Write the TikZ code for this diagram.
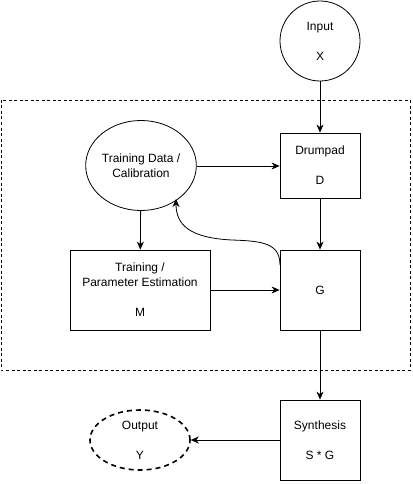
\documentclass[tikz,border=0pt]{standalone}
\usepackage{fontspec}
\setmainfont{Liberation Sans}
\usetikzlibrary{arrows.meta,shapes.geometric}
\begin{document}
\begin{tikzpicture}[x=1pt,y=-1pt,
  every node/.style={font=\fontsize{12}{15}\selectfont, align=center, inner sep=0pt},
  box/.style={draw, line width=0.8pt, minimum width=80pt, minimum height=80pt},
  round/.style={draw, line width=0.8pt, ellipse},
  conn/.style={line width=0.8pt, -{Stealth[length=8pt,width=7pt,inset=2.5pt]}},
  region/.style={draw, line width=0.8pt, dash pattern=on 3pt off 2.5pt}]
\useasboundingbox (0,0) rectangle (412,484);
\draw[region] (1,100) rectangle (410,370);
\node[round, minimum width=80pt, minimum height=80pt] (in) at (320,41) {Input\\[15pt]X};
\node[box, minimum height=65pt] (dp) at (320,165.5) {Drumpad\\[15pt]D};
\node[round, minimum width=100pt, minimum height=90pt] (td) at (141,165.5) {Training Data /\\Calibration};
\node[box, minimum width=140pt] (tr) at (140,290) {Training /\\Parameter Estimation\\[15pt]M};
\node[box] (g) at (320,290) {G};
\node[box] (sy) at (320,440) {Synthesis\\[15pt]S * G};
\node[draw, ellipse, line width=1.6pt, dash pattern=on 5pt off 4pt, minimum width=100pt, minimum height=60pt] (out) at (140,440) {Output\\[15pt]Y};
\coordinate (cs) at (280,265);
\coordinate (ce) at (176,199);
\draw[conn] (in) -- (dp);
\draw[conn] (td.east |- 0,166) -- (dp.west |- 0,166);
\draw[conn] (td) -- (tr);
\draw[conn] (dp) -- (g);
\draw[conn] (tr) -- (g);
\draw[conn] (g) -- (sy);
\draw[conn] (sy) -- (out);
\draw[conn] (cs) .. controls (280,243) and (262,241) .. (232,240) .. controls (190,238) and (176,225) .. (ce);
\end{tikzpicture}
\end{document}
